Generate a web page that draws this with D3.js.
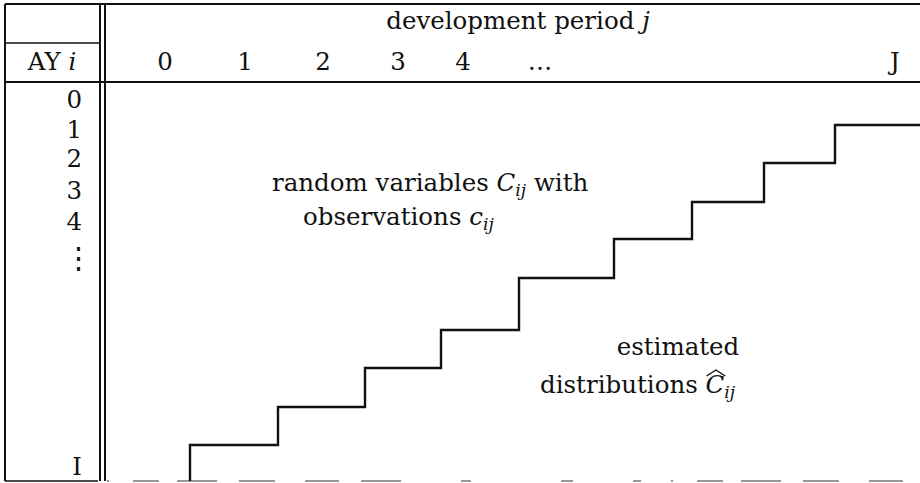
<!DOCTYPE html>
<html>
<head>
<meta charset="utf-8">
<script src="https://cdn.jsdelivr.net/npm/d3@7"></script>
<style>
  html, body { margin: 0; padding: 0; background: #fff; }
  svg { display: block; }
  text { font-family: "DejaVu Serif", "Liberation Serif", serif; fill: #111; }
</style>
</head>
<body>
<script>
// diagram units (like a LaTeX picture), 1 unit = 5px
const devLabels = ["0", "1", "2", "3", "4", "\u2026", "J"];
const devLabelPos = [33, 49, 64.6, 79.6, 92.6, 108, 179];

const ayLabels = ["0", "1", "2", "3", "4", "\u22EE", "I"];
const ayLabelPos = [21.6, 27.6, 33.4, 39.8, 46, 53.6, 95];

// staircase separating observed triangle from estimated part
const stairJ = [38, 55.6, 73, 88.2, 103.8, 122.8, 138.4, 152.8, 167, 184];
const stairI = [96.2, 89, 81.4, 73.6, 66, 55.6, 47.8, 40.4, 32.6, 25];

const width = 920, height = 483;

const x = d3.scaleLinear().domain([0, 184]).range([0, width]);
const y = d3.scaleLinear().domain([0, 96.6]).range([0, height]);

const svg = d3.select("body").append("svg")
    .attr("width", width)
    .attr("height", height);

const rules = svg.append("g")
    .attr("stroke", "#111")
    .attr("fill", "none");

// outer frame and header rules
rules.append("line").attr("x1", x(1)).attr("x2", x(184)).attr("y1", y(0.8)).attr("y2", y(0.8)).attr("stroke-width", 2);
rules.append("line").attr("x1", x(1)).attr("x2", x(1)).attr("y1", y(0.8)).attr("y2", y(96.2)).attr("stroke-width", 2);
rules.append("line").attr("x1", x(1)).attr("x2", x(20)).attr("y1", y(8.6)).attr("y2", y(8.6)).attr("stroke-width", 1.6);
rules.append("line").attr("x1", x(1)).attr("x2", x(184)).attr("y1", y(16.4)).attr("y2", y(16.4)).attr("stroke-width", 1.8);

// double vertical rule
[20, 21].forEach(v => {
  rules.append("line")
      .attr("x1", x(v)).attr("x2", x(v))
      .attr("y1", y(0.8)).attr("y2", y(96.2))
      .attr("stroke-width", 2);
});

// bottom rule (broken in the scan)
rules.append("line").attr("x1", x(1)).attr("x2", x(19.6)).attr("y1", y(96.2)).attr("y2", y(96.2)).attr("stroke-width", 1.5);
rules.append("line").attr("x1", x(21)).attr("x2", x(184)).attr("y1", y(96.2)).attr("y2", y(96.2))
    .attr("stroke-width", 1.1).attr("stroke", "#333")
    .attr("stroke-dasharray", "2,24,26,18,40,22,36,30,34,22,40,60,10,90,12,60,8,30")
    .attr("stroke-dashoffset", -2);

// staircase
const stair = d3.line()
    .x(d => x(d[0]))
    .y(d => y(d[1]))
    .curve(d3.curveStepBefore);

svg.append("path")
    .datum(d3.zip(stairJ, stairI))
    .attr("d", stair)
    .attr("fill", "none")
    .attr("stroke", "#111")
    .attr("stroke-width", 2.4);

const fs = 24.5;

// header
const hdr = svg.append("text")
    .attr("x", x(103.6)).attr("y", y(5.7))
    .attr("text-anchor", "middle")
    .attr("font-size", fs);
hdr.append("tspan").text("development period ");
hdr.append("tspan").attr("font-style", "italic").text("j");

svg.append("g").selectAll("text")
    .data(devLabels)
    .join("text")
    .attr("x", (d, i) => x(devLabelPos[i]))
    .attr("y", y(14))
    .attr("text-anchor", "middle")
    .attr("font-size", fs)
    .text(d => d);

const ay = svg.append("text")
    .attr("x", x(10.4)).attr("y", y(14))
    .attr("text-anchor", "middle")
    .attr("font-size", fs);
ay.append("tspan").text("AY ");
ay.append("tspan").attr("font-style", "italic").text("i");

// row labels; the vertical dots sit centred under the digits
const isDots = d => d === "\u22EE";
svg.append("g").selectAll("text")
    .data(ayLabels)
    .join("text")
    .attr("x", d => isDots(d) ? x(15.6) : x(16.4))
    .attr("y", (d, i) => y(ayLabelPos[i]))
    .attr("text-anchor", d => isDots(d) ? "middle" : "end")
    .attr("font-size", d => isDots(d) ? fs * 1.2 : fs)
    .text(d => d);

// annotations
function withSub(t, parts) {
  parts.forEach(p => {
    const s = t.append("tspan").text(p.text);
    if (p.italic) s.attr("font-style", "italic");
    if (p.sub) s.attr("font-size", fs * 0.7).attr("dy", 5);
    if (p.up) s.attr("dy", -5);
  });
  return t;
}

withSub(svg.append("text").attr("x", x(54.4)).attr("y", y(38.2)).attr("font-size", fs), [
  {text: "random variables "},
  {text: "C", italic: true},
  {text: "ij", italic: true, sub: true},
  {text: " with", up: true}
]);

withSub(svg.append("text").attr("x", x(60.6)).attr("y", y(45)).attr("font-size", fs), [
  {text: "observations "},
  {text: "c", italic: true},
  {text: "ij", italic: true, sub: true}
]);

svg.append("text")
    .attr("x", x(135.6)).attr("y", y(71))
    .attr("text-anchor", "middle")
    .attr("font-size", fs)
    .text("estimated");

const est = withSub(svg.append("text").attr("x", x(108)).attr("y", y(78.6)).attr("font-size", fs), [
  {text: "distributions "},
  {text: "C", italic: true},
  {text: "ij", italic: true, sub: true}
]);

// wide hat over C
const cIdx = "distributions ".length;
const box = est.node().getExtentOfChar(cIdx);
const hat = d3.path();
hat.moveTo(box.x + 1, box.y + 6);
hat.lineTo(box.x + box.width / 2 + 1, box.y);
hat.lineTo(box.x + box.width + 1, box.y + 6);
svg.append("path")
    .attr("d", hat.toString())
    .attr("fill", "none")
    .attr("stroke", "#111")
    .attr("stroke-width", 1.4);
</script>
</body>
</html>
